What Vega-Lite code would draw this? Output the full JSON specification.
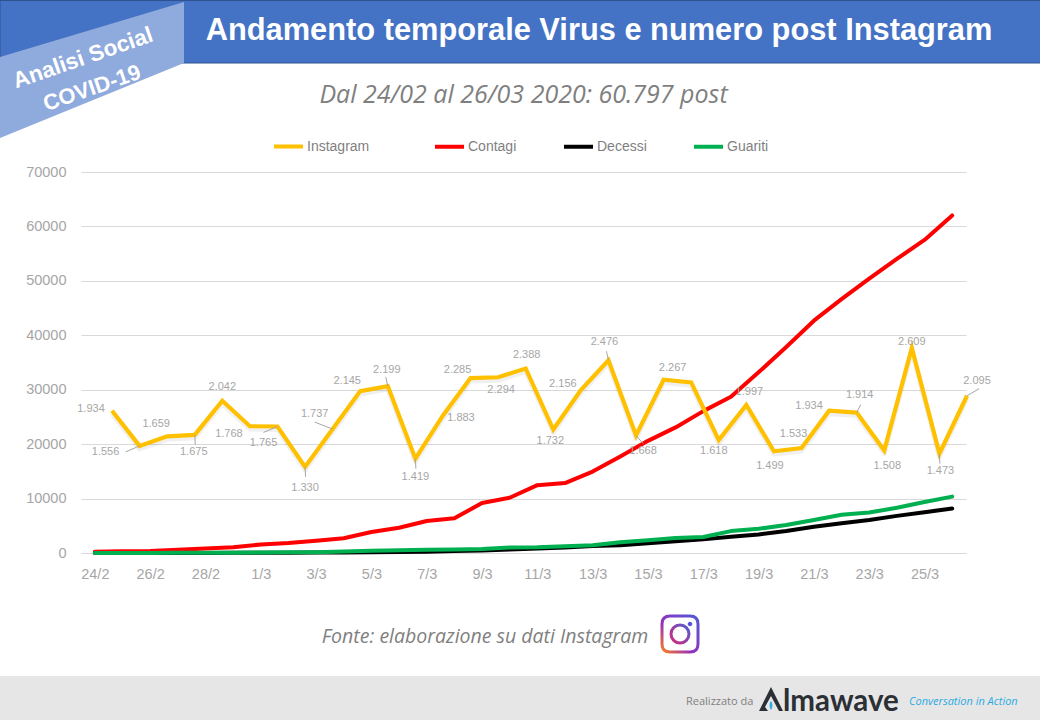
{"$schema":"https://vega.github.io/schema/vega-lite/v6.json","width":885,"height":381,"autosize":"none","padding":{"left":81,"top":172,"right":74,"bottom":167},"background":"white",
"config":{"locale":{"number":{"decimal":",","thousands":".","grouping":[3],"currency":["€",""]}},"view":{"stroke":null},"font":"Liberation Sans","text":{"fontSize":11,"color":"#a6a6a6","align":"center","baseline":"middle"},"rule":{"color":"#a6a6a6","strokeWidth":1}},
"datasets":{
"uno":[{"elemento":"grafica"}],
"epidemia":[
{"giorno":"24/2","serie":"Contagi","casi":221},{"giorno":"25/2","serie":"Contagi","casi":311},{"giorno":"26/2","serie":"Contagi","casi":385},{"giorno":"27/2","serie":"Contagi","casi":588},{"giorno":"28/2","serie":"Contagi","casi":821},{"giorno":"29/2","serie":"Contagi","casi":1049},{"giorno":"1/3","serie":"Contagi","casi":1577},{"giorno":"2/3","serie":"Contagi","casi":1835},{"giorno":"3/3","serie":"Contagi","casi":2263},{"giorno":"4/3","serie":"Contagi","casi":2706},{"giorno":"5/3","serie":"Contagi","casi":3858},{"giorno":"6/3","serie":"Contagi","casi":4636},{"giorno":"7/3","serie":"Contagi","casi":5883},{"giorno":"8/3","serie":"Contagi","casi":6387},{"giorno":"9/3","serie":"Contagi","casi":9172},{"giorno":"10/3","serie":"Contagi","casi":10149},{"giorno":"11/3","serie":"Contagi","casi":12462},{"giorno":"12/3","serie":"Contagi","casi":12839},{"giorno":"13/3","serie":"Contagi","casi":14955},{"giorno":"14/3","serie":"Contagi","casi":17750},{"giorno":"15/3","serie":"Contagi","casi":20603},{"giorno":"16/3","serie":"Contagi","casi":23073},{"giorno":"17/3","serie":"Contagi","casi":26062},{"giorno":"18/3","serie":"Contagi","casi":28710},{"giorno":"19/3","serie":"Contagi","casi":33190},{"giorno":"20/3","serie":"Contagi","casi":37860},{"giorno":"21/3","serie":"Contagi","casi":42681},{"giorno":"22/3","serie":"Contagi","casi":46638},{"giorno":"23/3","serie":"Contagi","casi":50418},{"giorno":"24/3","serie":"Contagi","casi":54030},{"giorno":"25/3","serie":"Contagi","casi":57521},{"giorno":"26/3","serie":"Contagi","casi":62013},
{"giorno":"24/2","serie":"Decessi","casi":7},{"giorno":"25/2","serie":"Decessi","casi":10},{"giorno":"26/2","serie":"Decessi","casi":12},{"giorno":"27/2","serie":"Decessi","casi":17},{"giorno":"28/2","serie":"Decessi","casi":21},{"giorno":"29/2","serie":"Decessi","casi":29},{"giorno":"1/3","serie":"Decessi","casi":34},{"giorno":"2/3","serie":"Decessi","casi":52},{"giorno":"3/3","serie":"Decessi","casi":79},{"giorno":"4/3","serie":"Decessi","casi":107},{"giorno":"5/3","serie":"Decessi","casi":148},{"giorno":"6/3","serie":"Decessi","casi":197},{"giorno":"7/3","serie":"Decessi","casi":233},{"giorno":"8/3","serie":"Decessi","casi":366},{"giorno":"9/3","serie":"Decessi","casi":463},{"giorno":"10/3","serie":"Decessi","casi":631},{"giorno":"11/3","serie":"Decessi","casi":827},{"giorno":"12/3","serie":"Decessi","casi":1016},{"giorno":"13/3","serie":"Decessi","casi":1266},{"giorno":"14/3","serie":"Decessi","casi":1441},{"giorno":"15/3","serie":"Decessi","casi":1809},{"giorno":"16/3","serie":"Decessi","casi":2158},{"giorno":"17/3","serie":"Decessi","casi":2503},{"giorno":"18/3","serie":"Decessi","casi":2978},{"giorno":"19/3","serie":"Decessi","casi":3405},{"giorno":"20/3","serie":"Decessi","casi":4032},{"giorno":"21/3","serie":"Decessi","casi":4825},{"giorno":"22/3","serie":"Decessi","casi":5476},{"giorno":"23/3","serie":"Decessi","casi":6077},{"giorno":"24/3","serie":"Decessi","casi":6820},{"giorno":"25/3","serie":"Decessi","casi":7503},{"giorno":"26/3","serie":"Decessi","casi":8165},
{"giorno":"24/2","serie":"Guariti","casi":1},{"giorno":"25/2","serie":"Guariti","casi":1},{"giorno":"26/2","serie":"Guariti","casi":3},{"giorno":"27/2","serie":"Guariti","casi":45},{"giorno":"28/2","serie":"Guariti","casi":46},{"giorno":"29/2","serie":"Guariti","casi":50},{"giorno":"1/3","serie":"Guariti","casi":83},{"giorno":"2/3","serie":"Guariti","casi":149},{"giorno":"3/3","serie":"Guariti","casi":160},{"giorno":"4/3","serie":"Guariti","casi":276},{"giorno":"5/3","serie":"Guariti","casi":414},{"giorno":"6/3","serie":"Guariti","casi":523},{"giorno":"7/3","serie":"Guariti","casi":589},{"giorno":"8/3","serie":"Guariti","casi":622},{"giorno":"9/3","serie":"Guariti","casi":724},{"giorno":"10/3","serie":"Guariti","casi":1004},{"giorno":"11/3","serie":"Guariti","casi":1045},{"giorno":"12/3","serie":"Guariti","casi":1258},{"giorno":"13/3","serie":"Guariti","casi":1439},{"giorno":"14/3","serie":"Guariti","casi":1966},{"giorno":"15/3","serie":"Guariti","casi":2335},{"giorno":"16/3","serie":"Guariti","casi":2749},{"giorno":"17/3","serie":"Guariti","casi":2941},{"giorno":"18/3","serie":"Guariti","casi":4025},{"giorno":"19/3","serie":"Guariti","casi":4440},{"giorno":"20/3","serie":"Guariti","casi":5129},{"giorno":"21/3","serie":"Guariti","casi":6072},{"giorno":"22/3","serie":"Guariti","casi":7024},{"giorno":"23/3","serie":"Guariti","casi":7432},{"giorno":"24/3","serie":"Guariti","casi":8326},{"giorno":"25/3","serie":"Guariti","casi":9362},{"giorno":"26/3","serie":"Guariti","casi":10361}],
"instagram":[
{"giorno":"24/2","serie":"Instagram","post":1934},{"giorno":"25/2","serie":"Instagram","post":1556},{"giorno":"26/2","serie":"Instagram","post":1659},{"giorno":"27/2","serie":"Instagram","post":1675},{"giorno":"28/2","serie":"Instagram","post":2042},{"giorno":"29/2","serie":"Instagram","post":1768},{"giorno":"1/3","serie":"Instagram","post":1765},{"giorno":"2/3","serie":"Instagram","post":1330},{"giorno":"3/3","serie":"Instagram","post":1737},{"giorno":"4/3","serie":"Instagram","post":2145},{"giorno":"5/3","serie":"Instagram","post":2199},{"giorno":"6/3","serie":"Instagram","post":1419},{"giorno":"7/3","serie":"Instagram","post":1883},{"giorno":"8/3","serie":"Instagram","post":2285},{"giorno":"9/3","serie":"Instagram","post":2294},{"giorno":"10/3","serie":"Instagram","post":2388},{"giorno":"11/3","serie":"Instagram","post":1732},{"giorno":"12/3","serie":"Instagram","post":2156},{"giorno":"13/3","serie":"Instagram","post":2476},{"giorno":"14/3","serie":"Instagram","post":1668},{"giorno":"15/3","serie":"Instagram","post":2267},{"giorno":"16/3","serie":"Instagram","post":2239},{"giorno":"17/3","serie":"Instagram","post":1618},{"giorno":"18/3","serie":"Instagram","post":1997},{"giorno":"19/3","serie":"Instagram","post":1499},{"giorno":"20/3","serie":"Instagram","post":1533},{"giorno":"21/3","serie":"Instagram","post":1934},{"giorno":"22/3","serie":"Instagram","post":1914},{"giorno":"23/3","serie":"Instagram","post":1508},{"giorno":"24/3","serie":"Instagram","post":2609},{"giorno":"25/3","serie":"Instagram","post":1473},{"giorno":"26/3","serie":"Instagram","post":2095}]},
"resolve":{"scale":{"x":"independent","y":"independent"}},
"layer":[
{"data":{"name":"uno"},"mark":{"type":"rect","fill":"#e7e6e6"},"encoding":{"x":{"value":-81},"x2":{"value":959},"y":{"value":504},"y2":{"value":548}}},
{"data":{"name":"uno"},"mark":{"type":"rect","fill":"#4472c4","stroke":"#2f528f","strokeWidth":1},"encoding":{"x":{"value":-81},"x2":{"value":960},"y":{"value":-171.5},"y2":{"value":-109}}},
{"data":{"name":"uno"},"mark":{"type":"point","filled":true,"fill":"#8faadc","opacity":1,"stroke":null,"size":4,"shape":"M0,57 L184,2 L184,63 L0,138 Z"},"encoding":{"x":{"value":-81},"y":{"value":-172}}},
{"data":{"name":"uno"},"mark":{"type":"text","font":"Liberation Sans","fontWeight":"bold","fontSize":22.5,"color":"white","angle":-19,"align":"center","baseline":"middle"},"encoding":{"x":{"value":2},"y":{"value":-114},"text":{"value":"Analisi  Social"}}},
{"data":{"name":"uno"},"mark":{"type":"text","font":"Liberation Sans","fontWeight":"bold","fontSize":22,"color":"white","angle":-19,"align":"center","baseline":"middle"},"encoding":{"x":{"value":11},"y":{"value":-84},"text":{"value":"COVID-19"}}},
{"data":{"name":"uno"},"mark":{"type":"text","font":"Liberation Sans","fontWeight":"bold","fontSize":30.8,"color":"white","align":"center","baseline":"middle"},"encoding":{"x":{"value":518},"y":{"value":-141},"text":{"value":"Andamento temporale Virus e numero post Instagram"}}},
{"data":{"name":"uno"},"mark":{"type":"text","font":"Open Sans","fontStyle":"italic","fontSize":25,"color":"#7f7f7f","align":"center","baseline":"middle"},"encoding":{"x":{"value":442.5},"y":{"value":-77},"text":{"value":"Dal 24/02 al 26/03 2020:  60.797 post"}}},
{"data":{"name":"uno"},"mark":{"type":"text","font":"Open Sans","fontStyle":"italic","fontSize":19.5,"color":"#7f7f7f","align":"center","baseline":"middle"},"encoding":{"x":{"value":404},"y":{"value":465},"text":{"value":"Fonte: elaborazione su dati Instagram"}}},
{"data":{"name":"uno"},"mark":{"type":"point","filled":false,"opacity":1,"size":4,"strokeWidth":3,"shape":"M8,0 L28,0 Q36,0 36,8 L36,28 Q36,36 28,36 L8,36 Q0,36 0,28 L0,8 Q0,0 8,0 Z","stroke":{"gradient":"linear","x1":1,"y1":0,"x2":0,"y2":1,"stops":[{"offset":0,"color":"#4f5bd5"},{"offset":0.6,"color":"#962fbf"},{"offset":1,"color":"#fa7e1e"}]}},"encoding":{"x":{"value":581},"y":{"value":444}}},
{"data":{"name":"uno"},"mark":{"type":"point","filled":false,"opacity":1,"size":4,"strokeWidth":3,"shape":"M-9,0 A9,9 0 1 0 9,0 A9,9 0 1 0 -9,0 Z","stroke":{"gradient":"linear","x1":1,"y1":0,"x2":0,"y2":1,"stops":[{"offset":0,"color":"#4f5bd5"},{"offset":1,"color":"#d62976"}]}},"encoding":{"x":{"value":599},"y":{"value":462}}},
{"data":{"name":"uno"},"mark":{"type":"point","filled":true,"fill":"#5851db","opacity":1,"size":4,"shape":"M-2.3,0 A2.3,2.3 0 1 0 2.3,0 A2.3,2.3 0 1 0 -2.3,0 Z"},"encoding":{"x":{"value":609},"y":{"value":452}}},
{"data":{"name":"uno"},"mark":{"type":"text","font":"Open Sans","fontSize":11,"color":"#7f7f7f","align":"left","baseline":"middle"},"encoding":{"x":{"value":605},"y":{"value":530},"text":{"value":"Realizzato da"}}},
{"data":{"name":"uno"},"mark":{"type":"point","filled":true,"fill":"#2b2f36","opacity":1,"stroke":null,"size":4,"shape":"M0,24 L12,0 L24,24 L20,24 L12,9 L6,20 L9,24 Z"},"encoding":{"x":{"value":678},"y":{"value":515}}},
{"data":{"name":"uno"},"mark":{"type":"point","filled":true,"fill":"#29abe2","opacity":1,"stroke":null,"size":4,"shape":"M12,14 Q15,18 12,23 Q9,18 12,14 Z"},"encoding":{"x":{"value":678},"y":{"value":515}}},
{"data":{"name":"uno"},"mark":{"type":"text","font":"Lato","fontWeight":"bold","fontSize":29.5,"color":"#2b2f36","align":"left","baseline":"alphabetic"},"encoding":{"x":{"value":702},"y":{"value":539},"text":{"value":"lmawave"}}},
{"data":{"name":"uno"},"mark":{"type":"text","font":"Open Sans","fontStyle":"italic","fontSize":11,"color":"#29abe2","align":"left","baseline":"middle"},"encoding":{"x":{"value":828},"y":{"value":530},"text":{"value":"Conversation in Action"}}},
{"data":{"name":"epidemia"},"mark":{"type":"line","strokeWidth":4,"strokeCap":"round","strokeJoin":"round"},
"encoding":{"x":{"field":"giorno","type":"ordinal","sort":null,"title":null,"scale":{"type":"point","padding":0.5,"domain":["24/2","25/2","26/2","27/2","28/2","29/2","1/3","2/3","3/3","4/3","5/3","6/3","7/3","8/3","9/3","10/3","11/3","12/3","13/3","14/3","15/3","16/3","17/3","18/3","19/3","20/3","21/3","22/3","23/3","24/3","25/3","26/3"]},"axis":{"values":["24/2","26/2","28/2","1/3","3/3","5/3","7/3","9/3","11/3","13/3","15/3","17/3","19/3","21/3","23/3","25/3"],"labelAngle":0,"ticks":false,"domain":true,"domainColor":"#d9d9d9","labelColor":"#a6a6a6","labelFontSize":14.5,"labelFont":"Liberation Sans","labelPadding":14,"labelOverlap":false,"grid":false}},
"y":{"field":"casi","type":"quantitative","title":null,"scale":{"domain":[0,70000],"nice":false},"axis":{"values":[0,10000,20000,30000,40000,50000,60000,70000],"format":"d","grid":true,"gridColor":"#d9d9d9","gridWidth":1,"ticks":false,"domain":false,"labelColor":"#a6a6a6","labelFontSize":14.5,"labelFont":"Liberation Sans","labelPadding":15}},
"color":{"field":"serie","type":"nominal","scale":{"domain":["Contagi","Decessi","Guariti"],"range":["#ff0000","#000000","#00b050"]},"legend":{"title":null,"orient":"none","legendX":352,"legendY":-42,"direction":"horizontal","columns":3,"symbolType":"stroke","symbolSize":841,"symbolStrokeWidth":4,"labelFont":"Liberation Sans","labelFontSize":14,"labelColor":"#7f7f7f","labelOffset":2,"columnPadding":39,"padding":0}}}},
{"data":{"name":"instagram"},"mark":{"type":"line","strokeWidth":5,"stroke":"#000000","opacity":0.06,"yOffset":3,"strokeJoin":"round"},
"encoding":{"x":{"field":"giorno","type":"ordinal","sort":null,"axis":null,"scale":{"type":"point","padding":0,"range":[31,886]}},"y":{"field":"post","type":"quantitative","axis":null,"scale":{"domain":[405,4500],"nice":false}}}},
{"data":{"name":"instagram"},"mark":{"type":"line","strokeWidth":4.2,"strokeJoin":"miter"},
"encoding":{"x":{"field":"giorno","type":"ordinal","sort":null,"axis":null,"scale":{"type":"point","padding":0,"range":[31,886]}},"y":{"field":"post","type":"quantitative","axis":null,"scale":{"domain":[405,4500],"nice":false}},"stroke":{"field":"serie","type":"nominal","scale":{"domain":["Instagram"],"range":["#ffc000"]},"legend":{"title":null,"orient":"none","legendX":191,"legendY":-42,"direction":"horizontal","symbolType":"stroke","symbolSize":841,"symbolStrokeWidth":4,"labelFont":"Liberation Sans","labelFontSize":14,"labelColor":"#7f7f7f","labelOffset":2,"padding":0}}}},
{"data":{"name":"instagram"},
"encoding":{"x":{"field":"giorno","type":"ordinal","sort":null,"axis":null,"scale":{"type":"point","padding":0,"range":[31,886],"domain":["24/2","25/2","26/2","27/2","28/2","29/2","1/3","2/3","3/3","4/3","5/3","6/3","7/3","8/3","9/3","10/3","11/3","12/3","13/3","14/3","15/3","16/3","17/3","18/3","19/3","20/3","21/3","22/3","23/3","24/3","25/3","26/3"]}},"x2":{"field":"giorno"},"y":{"field":"post","type":"quantitative","axis":null,"scale":{"domain":[405,4500],"nice":false}},"y2":{"field":"post"}},
"layer":[
{"transform":[{"filter":{"field":"giorno","oneOf":["5/3","13/3"]}}],"mark":{"type":"rule","x2Offset":-2,"y2Offset":-9}},
{"transform":[{"filter":{"field":"giorno","oneOf":["27/2","2/3","6/3","25/3"]}}],"mark":{"type":"rule","x2Offset":0.5,"y2Offset":10}},
{"transform":[{"filter":{"field":"giorno","oneOf":["25/2","1/3"]}}],"mark":{"type":"rule","x2Offset":-14,"y2Offset":6}},
{"transform":[{"filter":{"field":"giorno","equal":"3/3"}}],"mark":{"type":"rule","x2Offset":-18,"y2Offset":-7}},
{"transform":[{"filter":{"field":"giorno","equal":"14/3"}}],"mark":{"type":"rule","x2Offset":7,"y2Offset":8}},
{"transform":[{"filter":{"field":"giorno","equal":"22/3"}}],"mark":{"type":"rule","x2Offset":4,"y2Offset":-8}},
{"transform":[{"filter":{"field":"giorno","equal":"26/3"}}],"mark":{"type":"rule","x2Offset":12,"y2Offset":-7}}
]},
{"data":{"name":"instagram"},
"encoding":{"x":{"field":"giorno","type":"ordinal","sort":null,"axis":null,"scale":{"type":"point","padding":0,"range":[31,886],"domain":["24/2","25/2","26/2","27/2","28/2","29/2","1/3","2/3","3/3","4/3","5/3","6/3","7/3","8/3","9/3","10/3","11/3","12/3","13/3","14/3","15/3","16/3","17/3","18/3","19/3","20/3","21/3","22/3","23/3","24/3","25/3","26/3"]}},"y":{"field":"post","type":"quantitative","axis":null,"scale":{"domain":[405,4500],"nice":false}},"text":{"field":"post","type":"quantitative","format":",d"}},
"layer":[
{"transform":[{"filter":{"field":"giorno","equal":"24/2"}}],"mark":{"type":"text","dx":-21,"dy":-2}},
{"transform":[{"filter":{"field":"giorno","equal":"25/2"}}],"mark":{"type":"text","dx":-34,"dy":6}},
{"transform":[{"filter":{"field":"giorno","equal":"26/2"}}],"mark":{"type":"text","dx":-11,"dy":-12}},
{"transform":[{"filter":{"field":"giorno","equal":"27/2"}}],"mark":{"type":"text","dx":-1,"dy":17}},
{"transform":[{"filter":{"field":"giorno","equal":"28/2"}}],"mark":{"type":"text","dx":0,"dy":-14}},
{"transform":[{"filter":{"field":"giorno","equal":"29/2"}}],"mark":{"type":"text","dx":-21,"dy":8}},
{"transform":[{"filter":{"field":"giorno","equal":"1/3"}}],"mark":{"type":"text","dx":-14,"dy":17}},
{"transform":[{"filter":{"field":"giorno","equal":"2/3"}}],"mark":{"type":"text","dx":0,"dy":21}},
{"transform":[{"filter":{"field":"giorno","equal":"3/3"}}],"mark":{"type":"text","dx":-18,"dy":-15}},
{"transform":[{"filter":{"field":"giorno","equal":"4/3"}}],"mark":{"type":"text","dx":-13,"dy":-10}},
{"transform":[{"filter":{"field":"giorno","equal":"5/3"}}],"mark":{"type":"text","dx":-1,"dy":-16}},
{"transform":[{"filter":{"field":"giorno","equal":"6/3"}}],"mark":{"type":"text","dx":0,"dy":18}},
{"transform":[{"filter":{"field":"giorno","equal":"7/3"}}],"mark":{"type":"text","dx":18,"dy":3}},
{"transform":[{"filter":{"field":"giorno","equal":"8/3"}}],"mark":{"type":"text","dx":-13,"dy":-8}},
{"transform":[{"filter":{"field":"giorno","equal":"9/3"}}],"mark":{"type":"text","dx":3,"dy":13}},
{"transform":[{"filter":{"field":"giorno","equal":"10/3"}}],"mark":{"type":"text","dx":1,"dy":-14}},
{"transform":[{"filter":{"field":"giorno","equal":"11/3"}}],"mark":{"type":"text","dx":-3,"dy":11}},
{"transform":[{"filter":{"field":"giorno","equal":"12/3"}}],"mark":{"type":"text","dx":-18,"dy":-6}},
{"transform":[{"filter":{"field":"giorno","equal":"13/3"}}],"mark":{"type":"text","dx":-4,"dy":-18}},
{"transform":[{"filter":{"field":"giorno","equal":"14/3"}}],"mark":{"type":"text","dx":7,"dy":16}},
{"transform":[{"filter":{"field":"giorno","equal":"15/3"}}],"mark":{"type":"text","dx":9,"dy":-12}},
{"transform":[{"filter":{"field":"giorno","equal":"17/3"}}],"mark":{"type":"text","dx":-5,"dy":11}},
{"transform":[{"filter":{"field":"giorno","equal":"18/3"}}],"mark":{"type":"text","dx":3,"dy":-13}},
{"transform":[{"filter":{"field":"giorno","equal":"19/3"}}],"mark":{"type":"text","dx":-4,"dy":15}},
{"transform":[{"filter":{"field":"giorno","equal":"20/3"}}],"mark":{"type":"text","dx":-8,"dy":-14}},
{"transform":[{"filter":{"field":"giorno","equal":"21/3"}}],"mark":{"type":"text","dx":-20,"dy":-5}},
{"transform":[{"filter":{"field":"giorno","equal":"22/3"}}],"mark":{"type":"text","dx":3,"dy":-18}},
{"transform":[{"filter":{"field":"giorno","equal":"23/3"}}],"mark":{"type":"text","dx":3,"dy":16}},
{"transform":[{"filter":{"field":"giorno","equal":"24/3"}}],"mark":{"type":"text","dx":0,"dy":-6}},
{"transform":[{"filter":{"field":"giorno","equal":"25/3"}}],"mark":{"type":"text","dx":1,"dy":17}},
{"transform":[{"filter":{"field":"giorno","equal":"26/3"}}],"mark":{"type":"text","dx":10,"dy":-15}}
]}
]}
